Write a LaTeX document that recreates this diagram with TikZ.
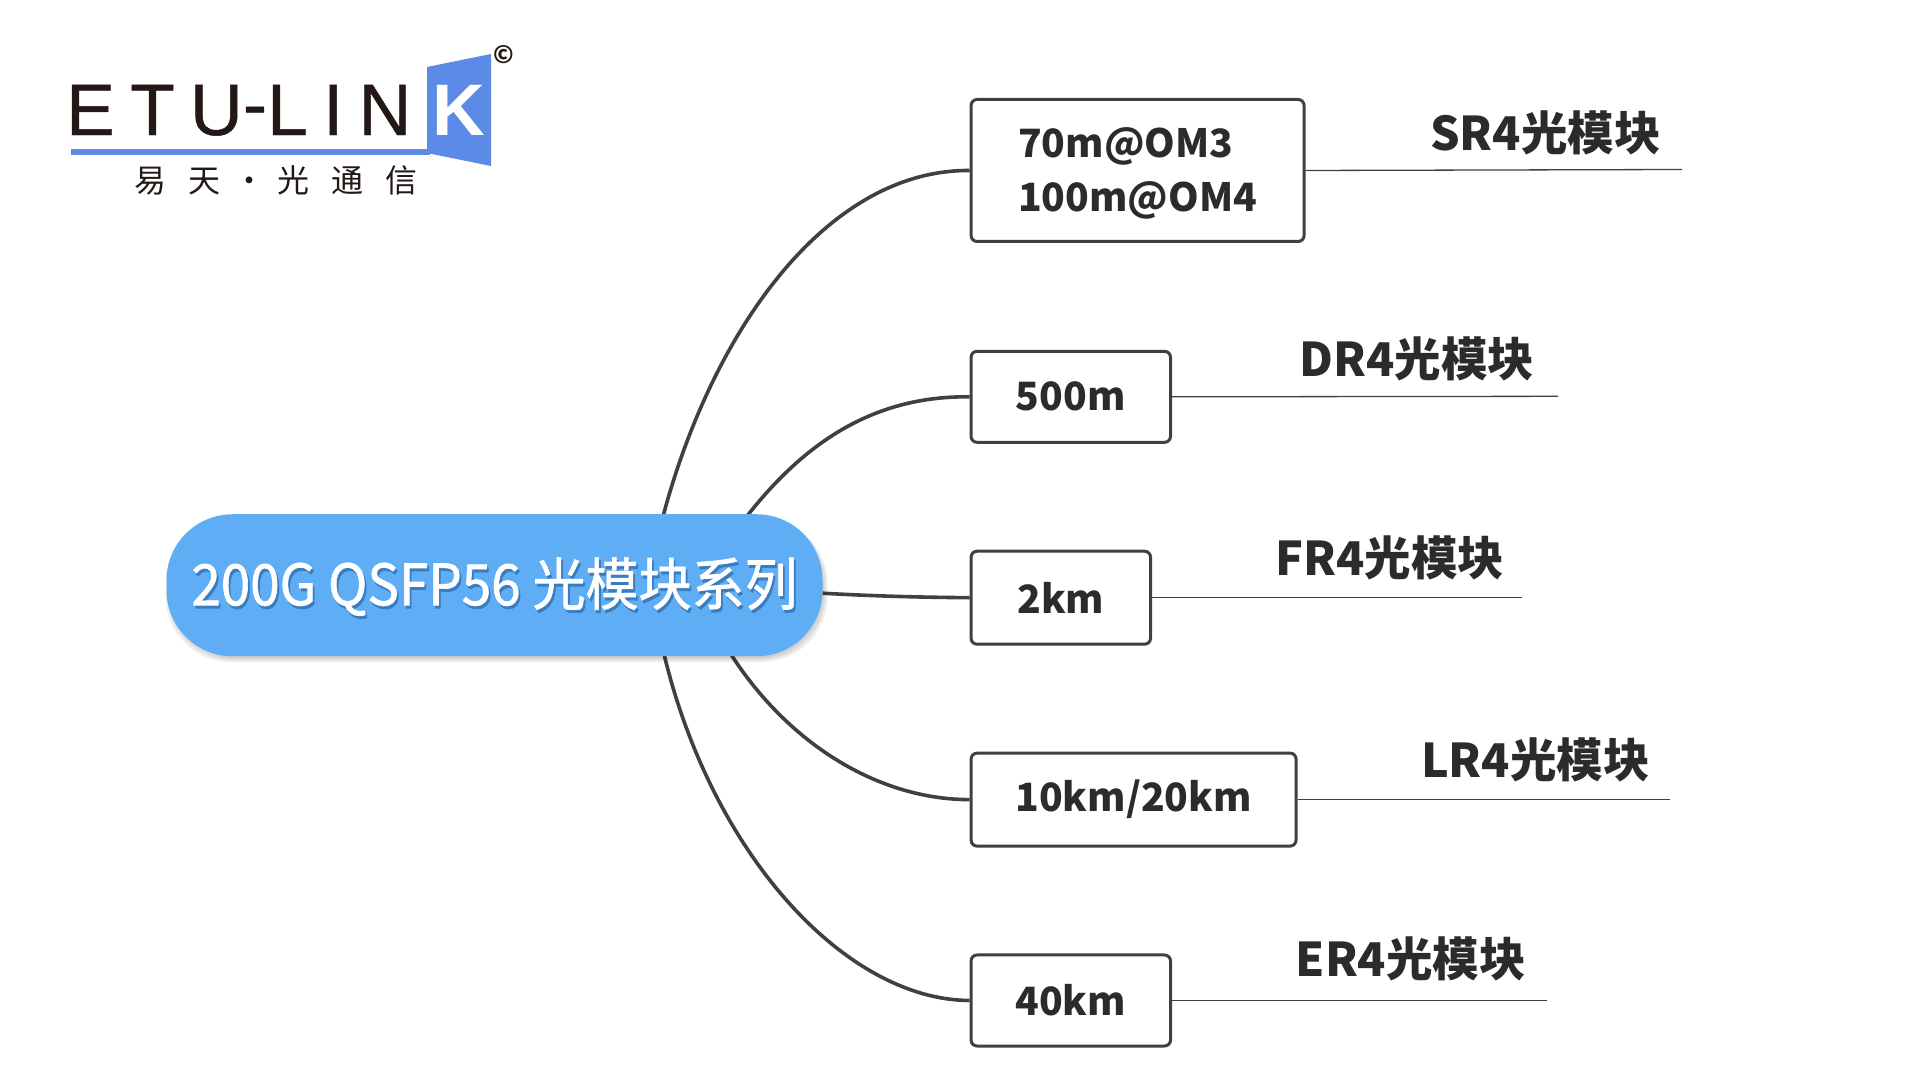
\documentclass[tikz,border=0pt]{standalone}
\usepackage{fontspec}
\setmainfont{Noto Sans CJK SC}
\newfontfamily\logofont{Liberation Sans}[LetterSpace=21,FakeBold=0.6]
\newfontfamily\logokay{Liberation Sans}
\newfontfamily\cjklogo{Noto Sans CJK SC}[LetterSpace=68]
\newfontfamily\pillfont{Noto Sans CJK SC}[FakeBold=1.2]
\definecolor{pillblue}{HTML}{5FAEF5}
\definecolor{pillshade}{HTML}{3A7CC0}
\definecolor{logoblue}{HTML}{5B8BE6}
\definecolor{logoink}{HTML}{231815}
\definecolor{ink}{HTML}{2B2B2B}
\definecolor{wire}{HTML}{404040}
\tikzset{
  x=1pt,y=-1pt,
  rangebox/.style={draw=wire,line width=3pt,fill=white,rounded corners=6pt,inner sep=0pt,align=left,text=ink,font=\fontsize{39}{54}\selectfont\bfseries},
  pillnode/.style={fill=pillblue,rounded corners=66pt,inner sep=0pt,minimum width=656pt,minimum height=142pt,text=white,font=\fontsize{57}{60}\selectfont\pillfont},
  softshadow/.style={fill=black,opacity=0.07,rounded corners=66pt},
  modlabel/.style={text=ink,inner sep=0pt,font=\fontsize{46.5}{54}\selectfont\bfseries},
  thick wire/.style={draw=wire,line width=3.6pt},
  thin wire/.style={draw=wire,line width=1.3pt},
}
\begin{document}
\begin{tikzpicture}
\useasboundingbox (0,0) rectangle (1920,1080);
\fill[white] (0,0) rectangle (1920,1080);

% logo
\fill[logoblue] (71,149) rectangle (430,154.5);
\fill[logoblue] (427,67) -- (491,54) -- (491,166) -- (427,153) -- cycle;
\node[anchor=base west,inner sep=0pt,text=logoink,font=\fontsize{73}{75}\selectfont\logofont] (etu) at (66,135) {ETU\raisebox{6pt}{-}LIN};
\node[anchor=base,inner sep=0pt,text=white,font=\fontsize{73}{75}\selectfont\logokay\bfseries] (kay) at (459,135) {K};
\node[inner sep=0pt,text=logoink,font=\fontsize{24}{26}\selectfont\bfseries] (copy) at (504,55) {©};
\node[inner sep=0pt,text=logoink,font=\fontsize{32}{36}\selectfont\cjklogo] (brand) at (276,180) {易天\kern12.5pt·\kern12.5pt光通信};

\begin{scope}[x=0.997pt,y=-0.997pt]
% connector ends on the pill
\coordinate (cSRa) at (665,518);
\coordinate (cDRa) at (749,518);
\coordinate (cFRa) at (825,595);
\coordinate (cLRa) at (733,656);
\coordinate (cERa) at (666,656);

\node[rangebox,minimum width=333pt,minimum height=142pt] (sr) at (1141,171) {\smash{\raisebox{-9.5pt}{\begin{tabular}{@{}l@{}}70m@OM3\\100m@OM4\end{tabular}}}};
\node[rangebox,minimum width=199.5pt,minimum height=91pt] (dr) at (1074,398) {500m};
\node[rangebox,minimum width=179.5pt,minimum height=93pt] (fr) at (1064,599.5) {2km};
\node[rangebox,minimum width=325pt,minimum height=93pt] (lr) at (1137,802) {10km/20km};
\node[rangebox,minimum width=199.5pt,minimum height=91pt] (er) at (1074,1003.5) {40km};

\draw[thick wire] (cSRa) .. controls (715,330) and (830,170) .. (sr.west);
\draw[thick wire] (cDRa) .. controls (810,440) and (880,397) .. (dr.west);
\draw[thick wire] (cFRa) .. controls (880,598) and (920,599) .. (fr.west);
\draw[thick wire] (cLRa) .. controls (790,745) and (880,802) .. (lr.west);
\draw[thick wire] (cERa) .. controls (715,860) and (850,1003) .. (er.west);

\fill[softshadow] (166,520) rectangle (830,664);
\fill[softshadow] (168,520) rectangle (828,662);
\fill[softshadow] (170,520) rectangle (826,660);
\node[pillnode] (pill) at (496,587) {\smash{\raisebox{-20pt}{\scalebox{0.93}[1]{\rlap{\kern2pt\raisebox{-3pt}{\textcolor{pillshade}{200G QSFP56 光模块系列}}}200G QSFP56 光模块系列}}}};

% labels and rules
\coordinate (eSR) at (1687,170);
\coordinate (eDR) at (1562.5,397.5);
\coordinate (eFR) at (1527,599.5);
\coordinate (eLR) at (1675.5,802);
\coordinate (eER) at (1551.5,1003.5);
\draw[thin wire] (sr.east) -- (eSR);
\draw[thin wire] (dr.east) -- (eDR);
\draw[thin wire] (fr.east) -- (eFR);
\draw[thin wire] (lr.east) -- (eLR);
\draw[thin wire] (er.east) -- (eER);
\node[modlabel] (lsr) at (1550,133) {SR4光模块};
\node[modlabel] (ldr) at (1421,360) {DR4光模块};
\node[modlabel] (lfr) at (1394,560) {FR4光模块};
\node[modlabel] (llr) at (1540,762) {LR4光模块};
\node[modlabel] (ler) at (1415,962) {ER4光模块};
\end{scope}
\end{tikzpicture}
\end{document}
